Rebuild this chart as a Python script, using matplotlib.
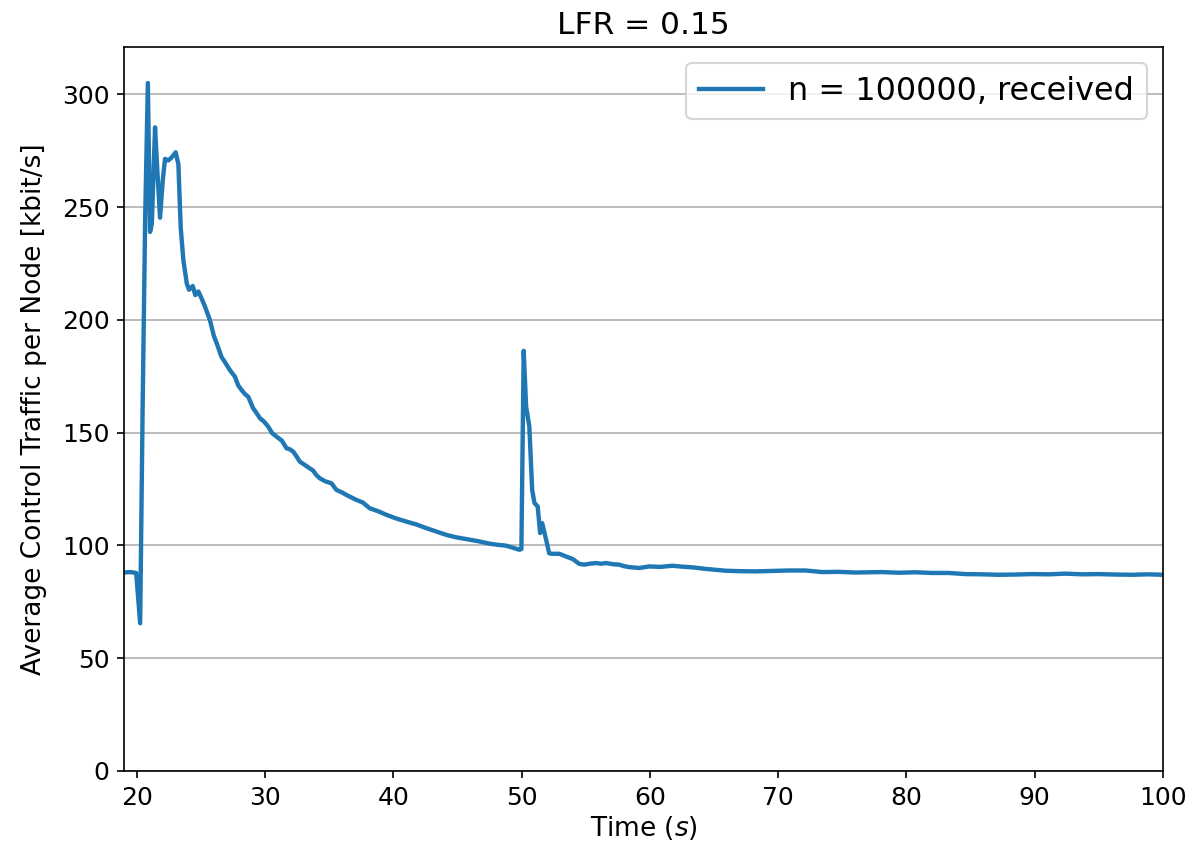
import matplotlib
matplotlib.use("Agg")
import matplotlib.pyplot as plt

# Data
time_s = [19.0, 19.5, 19.95, 20.26, 20.45, 20.65, 20.86, 21.03, 21.17, 21.42, 21.6, 21.81,
          22.02, 22.2, 22.46, 22.72, 23.03, 23.24, 23.42, 23.63, 23.9, 24.07, 24.36, 24.56,
          24.8, 25.05, 25.32, 25.7, 26.0, 26.23, 26.6, 26.9, 27.26, 27.65, 27.9, 28.17,
          28.45, 28.69, 29.07, 29.3, 29.6, 29.9, 30.24, 30.55, 30.9, 31.3, 31.67, 31.9,
          32.19, 32.45, 32.7, 33.2, 33.74, 34.0, 34.26, 34.7, 35.17, 35.56, 36.0, 36.34,
          37.0, 37.63, 38.15, 38.8, 39.45, 40.2, 41.0, 41.8, 42.56, 43.3, 44.12, 44.9,
          45.68, 46.7, 47.49, 48.1, 48.79, 49.3, 49.83, 49.98, 50.16, 50.35, 50.6, 50.82,
          51.0, 51.25, 51.44, 51.6, 51.91, 52.15, 52.37, 52.94, 53.33, 53.6, 53.98, 54.5,
          54.89, 55.3, 55.8, 56.2, 56.58, 57.1, 57.6, 58.0, 58.4, 59.17, 59.95, 60.8,
          61.76, 62.5, 63.3, 64.35, 65.1, 65.9, 67.0, 68.24, 69.5, 70.84, 72.14, 73.43,
          74.7, 76.03, 77.0, 78.1, 79.4, 80.7, 82.0, 83.3, 84.6, 85.9, 87.2, 88.5,
          89.8, 91.1, 92.4, 93.7, 95.0, 96.3, 97.6, 98.8, 100.0]

received = [88.0, 88.2, 87.8, 65.5, 160.0, 245.0, 305.0, 239.0, 242.6, 285.4, 266.0, 245.3,
            261.8, 271.4, 270.7, 272.1, 274.3, 269.0, 241.0, 226.4, 216.0, 213.4, 215.0, 211.0,
            212.6, 209.5, 205.8, 199.9, 193.0, 189.6, 183.6, 181.0, 177.7, 174.8, 171.0, 168.9,
            167.0, 165.9, 160.8, 159.0, 156.4, 155.0, 152.7, 149.8, 148.2, 146.5, 143.1, 142.7,
            141.6, 139.5, 137.2, 135.3, 133.2, 131.2, 129.8, 128.4, 127.6, 124.6, 123.5, 122.4,
            120.5, 119.0, 116.5, 115.2, 113.6, 112.0, 110.6, 109.3, 107.7, 106.3, 104.7, 103.6,
            102.8, 101.8, 100.8, 100.3, 99.9, 99.0, 98.1, 98.4, 186.3, 161.5, 152.7, 124.6,
            118.8, 117.3, 105.5, 109.9, 102.5, 96.5, 96.3, 96.3, 95.4, 94.8, 94.0, 91.8,
            91.5, 91.9, 92.2, 91.9, 92.2, 91.7, 91.5, 90.8, 90.4, 90.0, 90.7, 90.5,
            91.0, 90.6, 90.3, 89.6, 89.2, 88.8, 88.6, 88.5, 88.7, 88.9, 88.9, 88.2,
            88.3, 88.0, 88.1, 88.2, 87.9, 88.1, 87.8, 87.8, 87.3, 87.2, 87.0, 87.1,
            87.3, 87.2, 87.5, 87.2, 87.3, 87.1, 87.0, 87.2, 87.0]

series_label = "n = 100000, received"
title_text = "LFR = 0.15"
x_label = "Time ($s$)"
y_label = "Average Control Traffic per Node [kbit/s]"

fig = plt.figure(figsize=(1194 / 150, 854 / 150), dpi=150)
ax = fig.add_axes([124 / 1194, 1 - 771 / 854, (1163 - 124) / 1194, (771 - 47) / 854])

ax.plot(time_s, received, color="#1f77b4", lw=2.1, label=series_label)
ax.set_xlim(19, 100)
ax.set_ylim(0, 321)
ax.set_yticks([0, 50, 100, 150, 200, 250, 300])
ax.set_xticks([20, 30, 40, 50, 60, 70, 80, 90, 100])
ax.grid(axis="y", color="#b0b0b0", lw=0.8)
ax.set_axisbelow(True)
ax.tick_params(labelsize=12)
ax.set_xlabel(x_label, fontsize=12.7, labelpad=2)
ax.set_ylabel(y_label, fontsize=12.7, labelpad=7)
ax.set_title(title_text, fontsize=15)
ax.legend(loc="upper right", fontsize=15.3)

fig.savefig("out.png", dpi=150)
